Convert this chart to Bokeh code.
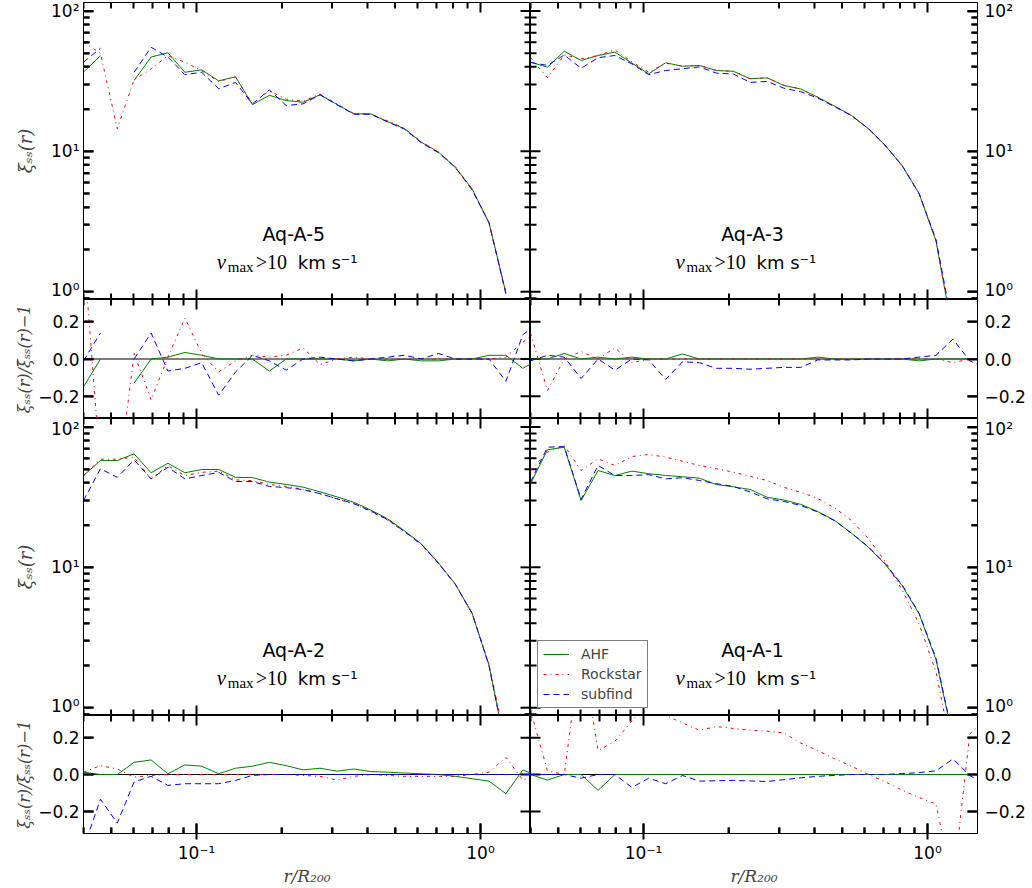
import math
import numpy as np
from bokeh.plotting import figure
from bokeh.models import (LogAxis, LinearAxis, FixedTicker, Range1d, Label,
                          Legend, LegendItem, Span)
from bokeh.layouts import gridplot
from bokeh.embed import file_html
from bokeh.resources import INLINE

nan = float("nan")

# ---------------- data ----------------
# radial bins r / R200
R = [0.0400, 0.0459, 0.0526, 0.0603, 0.0692, 0.0793, 0.0910, 0.1043, 0.1197, 0.1372,
     0.1574, 0.1805, 0.2070, 0.2373, 0.2723, 0.3122, 0.3581, 0.4107, 0.4710, 0.5401,
     0.6194, 0.7104, 0.8147, 0.9344, 1.0715, 1.2289, 1.4093, 1.6161]

# Aq-A-5
AHF_5 = [36.7, 48.0, nan, 32.0, 47.0, 50.4, 36.6, 38.1, 31.8, 34.0, 21.5, 25.1, 23.0, 22.4,
         25.3, 21.6, 18.5, 18.5, 16.3, 14.5, 11.6, 9.9, 7.7, 5.4, 3.1, 0.98, nan, nan]
ROCK_5 = [60.0, 50.0, 14.5, 32.4, 38.7, 48.0, 43.2, 37.5, 31.5, 33.8, 21.8, 27.0, 23.5, 22.8,
          25.6, 21.8, 18.6, 18.4, 16.5, 14.6, 11.7, 9.9, 7.8, 5.4, 3.1, 0.98, nan, nan]
SUB_5 = [43.2, 54.3, nan, 36.6, 55.2, 47.0, 35.2, 36.6, 27.9, 31.0, 21.8, 27.4, 21.2, 21.8,
         25.3, 21.5, 18.4, 18.4, 16.2, 14.4, 11.5, 9.8, 7.7, 5.3, 3.1, 0.96, nan, nan]
RES_AHF_5 = [-0.15, 0.0, nan, -0.13, 0.0, 0.01, 0.035, 0.02, 0.0, 0.0, 0.0, -0.065, 0.0, 0.0,
             0.0, 0.0, -0.01, 0.0, -0.01, 0.0, -0.01, -0.01, 0.0, 0.0, 0.02, 0.02, -0.05, 0.0]
RES_ROCK_5 = [0.6, -0.6, -0.7, 0.03, -0.22, 0.01, 0.22, 0.03, -0.07, -0.01, 0.02, 0.01, 0.02,
              0.06, -0.03, 0.0, 0.01, 0.0, 0.0, 0.0, 0.0, 0.0, 0.0, 0.0, 0.0, 0.01, 0.09, 0.16]
RES_SUB_5 = [-0.01, 0.14, nan, 0.0, 0.14, -0.065, -0.05, -0.02, -0.195, -0.07, 0.02, -0.01,
             -0.06, 0.0, 0.01, 0.0, -0.01, 0.0, 0.01, 0.02, 0.0, 0.03, 0.0, 0.0, 0.0, -0.12,
             0.13, 0.2]

# Aq-A-3
AHF_3 = [43.2, 39.8, 51.7, 44.4, 48.2, 50.9, 42.6, 35.7, 42.8, 40.4, 40.9, 37.7, 37.2, 32.9,
         33.4, 29.5, 27.8, 24.3, 21.0, 18.0, 14.5, 11.0, 7.9, 5.0, 2.3, 0.5, nan, nan]
ROCK_3 = [46.6, 33.4, 48.6, 45.7, 48.2, 52.8, 43.5, 36.6, 42.5, 40.5, 41.0, 37.7, 37.2, 33.0,
          33.4, 29.6, 27.8, 24.3, 21.0, 18.0, 14.5, 11.0, 7.9, 5.0, 2.3, 0.5, nan, nan]
SUB_3 = [43.0, 41.0, 48.6, 39.1, 46.5, 48.2, 42.0, 35.2, 37.7, 38.8, 40.0, 36.1, 35.6, 31.0,
         31.5, 28.2, 26.6, 24.0, 20.8, 18.0, 14.5, 11.0, 7.9, 5.0, 2.35, 0.55, nan, nan]
RES_AHF_3 = [0.0, 0.0, 0.03, 0.0, 0.01, 0.0, 0.01, 0.0, 0.0, 0.027, 0.0, 0.0, 0.0, 0.0, 0.0,
             0.0, 0.0, 0.01, 0.0, 0.0, 0.0, 0.0, 0.0, -0.01, 0.0, 0.0, 0.0, 0.0]
RES_ROCK_3 = [0.14, -0.17, 0.0, 0.04, 0.0, 0.06, -0.02, 0.0, 0.0, 0.0, 0.0, 0.0, 0.0, 0.0, 0.0,
              0.0, 0.0, 0.0, 0.0, 0.0, 0.0, 0.0, 0.0, 0.0, 0.0, -0.02, 0.0, 0.0]
RES_SUB_3 = [-0.01, 0.02, 0.01, -0.105, 0.0, -0.06, 0.0, -0.005, -0.11, -0.015, -0.02, -0.05,
             -0.05, -0.055, -0.05, -0.045, -0.045, -0.005, -0.005, -0.005, 0.0, 0.0, 0.0, 0.01,
             0.02, 0.107, -0.01, -0.05]

# Aq-A-2
AHF_2 = [45.1, 57.7, 57.7, 64.4, 47.2, 55.2, 47.2, 49.8, 49.8, 43.8, 43.6, 40.5, 39.0, 37.3,
         34.5, 31.8, 29.1, 25.6, 22.2, 18.2, 14.7, 10.8, 7.6, 4.7, 2.0, 0.5, nan, nan]
ROCK_2 = [45.0, 59.0, 59.0, 61.0, 42.7, 53.0, 45.1, 47.5, 48.5, 42.0, 41.5, 39.0, 37.8, 36.0,
          33.5, 30.8, 28.3, 25.0, 21.7, 17.9, 14.5, 10.7, 7.6, 4.7, 2.05, 0.55, nan, nan]
SUB_2 = [29.9, 50.4, 43.8, 58.3, 42.7, 51.7, 42.7, 45.1, 47.5, 40.9, 40.9, 37.7, 37.0, 35.8,
         33.5, 30.8, 28.5, 25.2, 21.9, 18.0, 14.6, 10.7, 7.6, 4.7, 2.0, 0.5, nan, nan]
RES_AHF_2 = [0.0125, 0.0, 0.0, 0.066, 0.079, 0.004, 0.052, 0.045, 0.004, 0.034, 0.045, 0.066,
             0.048, 0.025, 0.034, 0.018, 0.03, 0.016, 0.0125, 0.008, 0.004, 0.0, -0.01, -0.023,
             -0.036, -0.104, 0.025, -0.014]
RES_ROCK_2 = [0.0125, 0.048, 0.03, -0.014, -0.005, 0.0, 0.0, 0.0, 0.0, 0.0, 0.0, 0.0, 0.0,
              -0.005, -0.01, -0.03, -0.01, 0.0, -0.005, -0.01, -0.01, -0.01, -0.01, 0.0, 0.0125,
              0.093, -0.03, 0.0]
RES_SUB_2 = [-0.4, -0.134, -0.264, -0.04, -0.01, -0.059, -0.05, -0.05, -0.05, -0.032, -0.005,
             0.0, 0.0, 0.0, 0.0, 0.0, 0.0, 0.0, 0.0, 0.0, 0.0, 0.0, 0.0, 0.0, 0.0, 0.0, 0.0, 0.0]

# Aq-A-1
AHF_1 = [39.4, 68.8, 71.8, 29.9, 49.0, 45.1, 48.5, 46.5, 45.2, 44.2, 43.2, 38.9, 37.5, 35.9,
         31.6, 30.2, 28.1, 25.0, 21.6, 17.5, 13.9, 10.5, 7.4, 4.67, 2.2, 0.6, nan, nan]
ROCK_1 = [49.0, 66.2, 73.8, 49.0, 59.4, 53.2, 61.6, 63.7, 61.0, 57.0, 53.2, 50.5, 47.7, 44.5,
          41.6, 37.2, 34.3, 31.0, 26.5, 21.6, 16.0, 11.0, 6.9, 3.95, 1.8, 0.45, nan, nan]
SUB_1 = [40.5, 71.8, 72.5, 30.5, 53.2, 45.1, 45.1, 45.8, 42.7, 43.5, 41.6, 39.5, 37.7, 34.5,
         30.8, 29.5, 27.6, 24.8, 21.5, 17.5, 14.0, 10.6, 7.5, 4.7, 2.25, 0.62, nan, nan]
RES_AHF_1 = [0.0, -0.03, 0.0, 0.0, -0.086, 0.0, 0.0, 0.0, 0.0, 0.0, 0.0, 0.0, 0.0, 0.0, 0.0,
             0.0, 0.0, 0.0, 0.0, 0.0, 0.0, 0.0, 0.0, 0.0, 0.0, 0.0, 0.0, 0.0]
RES_ROCK_1 = [0.35, 0.02, 0.0, 0.7, 0.13, 0.18, 0.29, 0.4, 0.32, 0.28, 0.24, 0.26, 0.25, 0.24,
              0.235, 0.225, 0.17, 0.13, 0.085, 0.045, 0.0, -0.04, -0.085, -0.125, -0.16, -0.6,
              0.22, 0.3]
RES_SUB_1 = [0.0, 0.0, 0.0, -0.02, 0.0, 0.0, -0.07, -0.02, -0.05, -0.005, -0.036, -0.034,
             -0.032, -0.035, -0.038, -0.028, -0.018, -0.01, -0.005, 0.0, 0.0, 0.0, 0.005, 0.01,
             0.02, 0.084, -0.005, -0.06]

FINDERS = ["AHF", "Rockstar", "subfind"]
PANEL_NAMES = ["Aq-A-5", "Aq-A-3", "Aq-A-2", "Aq-A-1"]

X_TICKS = [0.1, 1]
X_MINOR = [0.04, 0.05, 0.06, 0.07, 0.08, 0.09, 0.2, 0.3, 0.4, 0.5, 0.6, 0.7, 0.8, 0.9]
Y_TICKS = [1, 10, 100]
Y_MINOR = [0.9, 2, 3, 4, 5, 6, 7, 8, 9, 20, 30, 40, 50, 60, 70, 80, 90]
RES_TICKS = [-0.2, 0, 0.2]
X_LABELS = {0.1: "10\u207b\u00b9", 1: "10\u2070"}
Y_LABELS = {1: "10\u2070", 10: "10\u00b9", 100: "10\u00b2"}
RES_LABELS = {-0.2: "\u22120.2", 0: "0.0", 0.2: "0.2"}

# ---------------- style ----------------
COLORS = ["#008000", "#ff0000", "#0000ff"]
DASHES = ["solid", "3 4 1 4", "6 4"]
X_RANGE = (0.04, 1.5)
MAIN_YR = (0.88, 115.0)
RES_YR = (-0.32, 0.32)
W = 447
H_MAIN = 297
H_RES = [119, 118]
LEFT_B = 83
RIGHT_B = 55
TOP_B = 2
BOTTOM_B = 55
TICK_FONT = "DejaVu Sans"
TICK_SIZE = "17px"
MAJ_LEN = 10
MIN_LEN = 6
TICK_W = 2


def style_axis(ax, tick_out=0):
    ax.axis_line_color = "black"
    ax.axis_line_width = 1
    ax.major_tick_line_color = "black"
    ax.minor_tick_line_color = "black"
    ax.major_tick_line_width = TICK_W
    ax.minor_tick_line_width = TICK_W
    ax.major_tick_in = MAJ_LEN
    ax.major_tick_out = tick_out
    ax.minor_tick_in = MIN_LEN
    ax.minor_tick_out = 0
    ax.major_label_text_font = TICK_FONT
    ax.major_label_text_font_size = TICK_SIZE
    ax.major_label_text_color = "black"
    ax.major_label_standoff = 4


def mover(lo, hi, npx, is_log):
    """shift a coordinate by a number of screen pixels along one frame dimension"""
    if is_log:
        per = (math.log10(hi) - math.log10(lo)) / npx
        return lambda v, px: v * 10 ** (px * per)
    per = (hi - lo) / npx
    return lambda v, px: v + px * per


def edge_ticks(p, yr, hpx, ylog, yt, ym):
    """matplotlib-like inward tick marks on all four frame edges"""
    mx = mover(X_RANGE[0], X_RANGE[1], W, True)
    my = mover(yr[0], yr[1], hpx, ylog)
    kw = dict(line_color="black", line_width=TICK_W)
    for vals, ln in ((X_TICKS, MAJ_LEN), (X_MINOR, MIN_LEN)):
        n = len(vals)
        p.segment(x0=vals, x1=vals, y0=[my(yr[0], -2)] * n, y1=[my(yr[0], ln)] * n, **kw)
        p.segment(x0=vals, x1=vals, y0=[my(yr[1], 2)] * n, y1=[my(yr[1], -ln)] * n, **kw)
    for vals, ln in ((yt, MAJ_LEN), (ym, MIN_LEN)):
        n = len(vals)
        if n == 0:
            continue
        p.segment(y0=vals, y1=vals, x0=[mx(X_RANGE[0], -2)] * n, x1=[mx(X_RANGE[0], ln)] * n, **kw)
        p.segment(y0=vals, y1=vals, x0=[mx(X_RANGE[1], 2)] * n, x1=[mx(X_RANGE[1], -ln)] * n, **kw)


def new_fig(is_main, col, prow):
    yr = MAIN_YR if is_main else RES_YR
    hpx = H_MAIN if is_main else H_RES[prow]
    bottom = (prow == 1 and not is_main)
    top = (prow == 0 and is_main)
    p = figure(
        x_axis_type="log", y_axis_type="log" if is_main else "linear",
        x_range=Range1d(*X_RANGE), y_range=Range1d(*yr),
        frame_width=W, frame_height=hpx,
        min_border_left=LEFT_B if col == 0 else 0,
        min_border_right=RIGHT_B if col == 1 else 0,
        min_border_top=TOP_B if top else 0,
        min_border_bottom=BOTTOM_B if bottom else 0,
        x_axis_location=None, y_axis_location=None,
        output_backend="svg", toolbar_location=None,
        background_fill_color="white", border_fill_color="white",
        outline_line_color="black", outline_line_width=1,
    )
    p.grid.visible = False

    if bottom:
        ax = LogAxis(ticker=FixedTicker(ticks=X_TICKS, minor_ticks=X_MINOR))
        style_axis(ax, tick_out=6)
        ax.major_label_standoff = 3
        ax.major_label_overrides = X_LABELS
        ax.axis_label = "r/R\u2082\u2080\u2080"
        ax.axis_label_text_font = "DejaVu Serif"
        ax.axis_label_text_font_style = "italic"
        ax.axis_label_text_font_size = "17px"
        ax.axis_label_standoff = 0
        p.add_layout(ax, "below")

    if is_main:
        ax = LogAxis(ticker=FixedTicker(ticks=Y_TICKS, minor_ticks=Y_MINOR))
    else:
        ax = LinearAxis(ticker=FixedTicker(ticks=RES_TICKS, minor_ticks=[]))
    style_axis(ax)
    ax.major_label_overrides = Y_LABELS if is_main else RES_LABELS
    if col == 0:
        ax.axis_label = ("\u03be\u209b\u209b(r)" if is_main
                         else "\u03be\u209b\u209b(r)/\u03be\u0304\u209b\u209b(r)\u22121")
        ax.axis_label_text_font = "DejaVu Serif"
        ax.axis_label_text_font_style = "italic"
        ax.axis_label_text_font_size = "18px" if is_main else "16px"
        ax.axis_label_standoff = 12 if is_main else 1
        p.add_layout(ax, "left")
    else:
        ax.major_label_standoff = 7
        p.add_layout(ax, "right")

    edge_ticks(p, yr, hpx, is_main,
               Y_TICKS if is_main else RES_TICKS,
               Y_MINOR if is_main else [])
    return p


def draw_lines(p, series):
    rs = []
    for vals, c, d in zip(series, COLORS, DASHES):
        rs.append(p.line(np.array(R, dtype=float), np.array(vals, dtype=float),
                         line_color=c, line_width=1.0, line_dash=d))
    return rs


def add_title(p, name, xc):
    p.add_layout(Label(x=xc, y=2.59, text=name, text_align="center",
                       text_baseline="alphabetic", text_font="DejaVu Sans",
                       text_font_size="19px", text_color="black"))
    pieces = [("v", -77, 0, "Liberation Serif", "italic", "21px"),
              ("max", -66, -5, "Liberation Serif", "normal", "15px"),
              (">10", -38, 0, "Liberation Serif", "normal", "20px"),
              ("km s\u207b\u00b9", 4, 0, "DejaVu Sans", "normal", "18px")]
    for txt, dx, dy, font, style, size in pieces:
        p.add_layout(Label(x=xc, y=1.62, x_offset=dx, y_offset=dy, text=txt,
                           text_align="left", text_baseline="alphabetic",
                           text_font=font, text_font_style=style,
                           text_font_size=size, text_color="black"))


MAINS = [(AHF_5, ROCK_5, SUB_5), (AHF_3, ROCK_3, SUB_3),
         (AHF_2, ROCK_2, SUB_2), (AHF_1, ROCK_1, SUB_1)]
RESIDS = [(RES_AHF_5, RES_ROCK_5, RES_SUB_5), (RES_AHF_3, RES_ROCK_3, RES_SUB_3),
          (RES_AHF_2, RES_ROCK_2, RES_SUB_2), (RES_AHF_1, RES_ROCK_1, RES_SUB_1)]
TITLE_X = [0.22, 0.242]

rows = []
for prow in range(2):
    main_row, res_row = [], []
    for col in range(2):
        i = prow * 2 + col
        pm = new_fig(True, col, prow)
        rend = draw_lines(pm, MAINS[i])
        add_title(pm, PANEL_NAMES[i], TITLE_X[col])
        if i == 3:
            leg = Legend(items=[LegendItem(label=n, renderers=[r]) for n, r in zip(FINDERS, rend)],
                         location=(7, 7), border_line_color="black", border_line_width=1,
                         background_fill_color="white", background_fill_alpha=1.0,
                         label_text_font="DejaVu Sans", label_text_font_size="14px",
                         glyph_width=26, glyph_height=16, label_height=16,
                         label_standoff=12, spacing=4, padding=5, margin=0)
            pm.add_layout(leg)
        pr = new_fig(False, col, prow)
        pr.add_layout(Span(location=0, dimension="width", line_color="black",
                           line_width=1.2, level="underlay"))
        draw_lines(pr, RESIDS[i])
        main_row.append(pm)
        res_row.append(pr)
    rows.append(main_row)
    rows.append(res_row)

grid = gridplot(rows, toolbar_location=None)

open("out.html", "w").write(file_html(grid, INLINE))
